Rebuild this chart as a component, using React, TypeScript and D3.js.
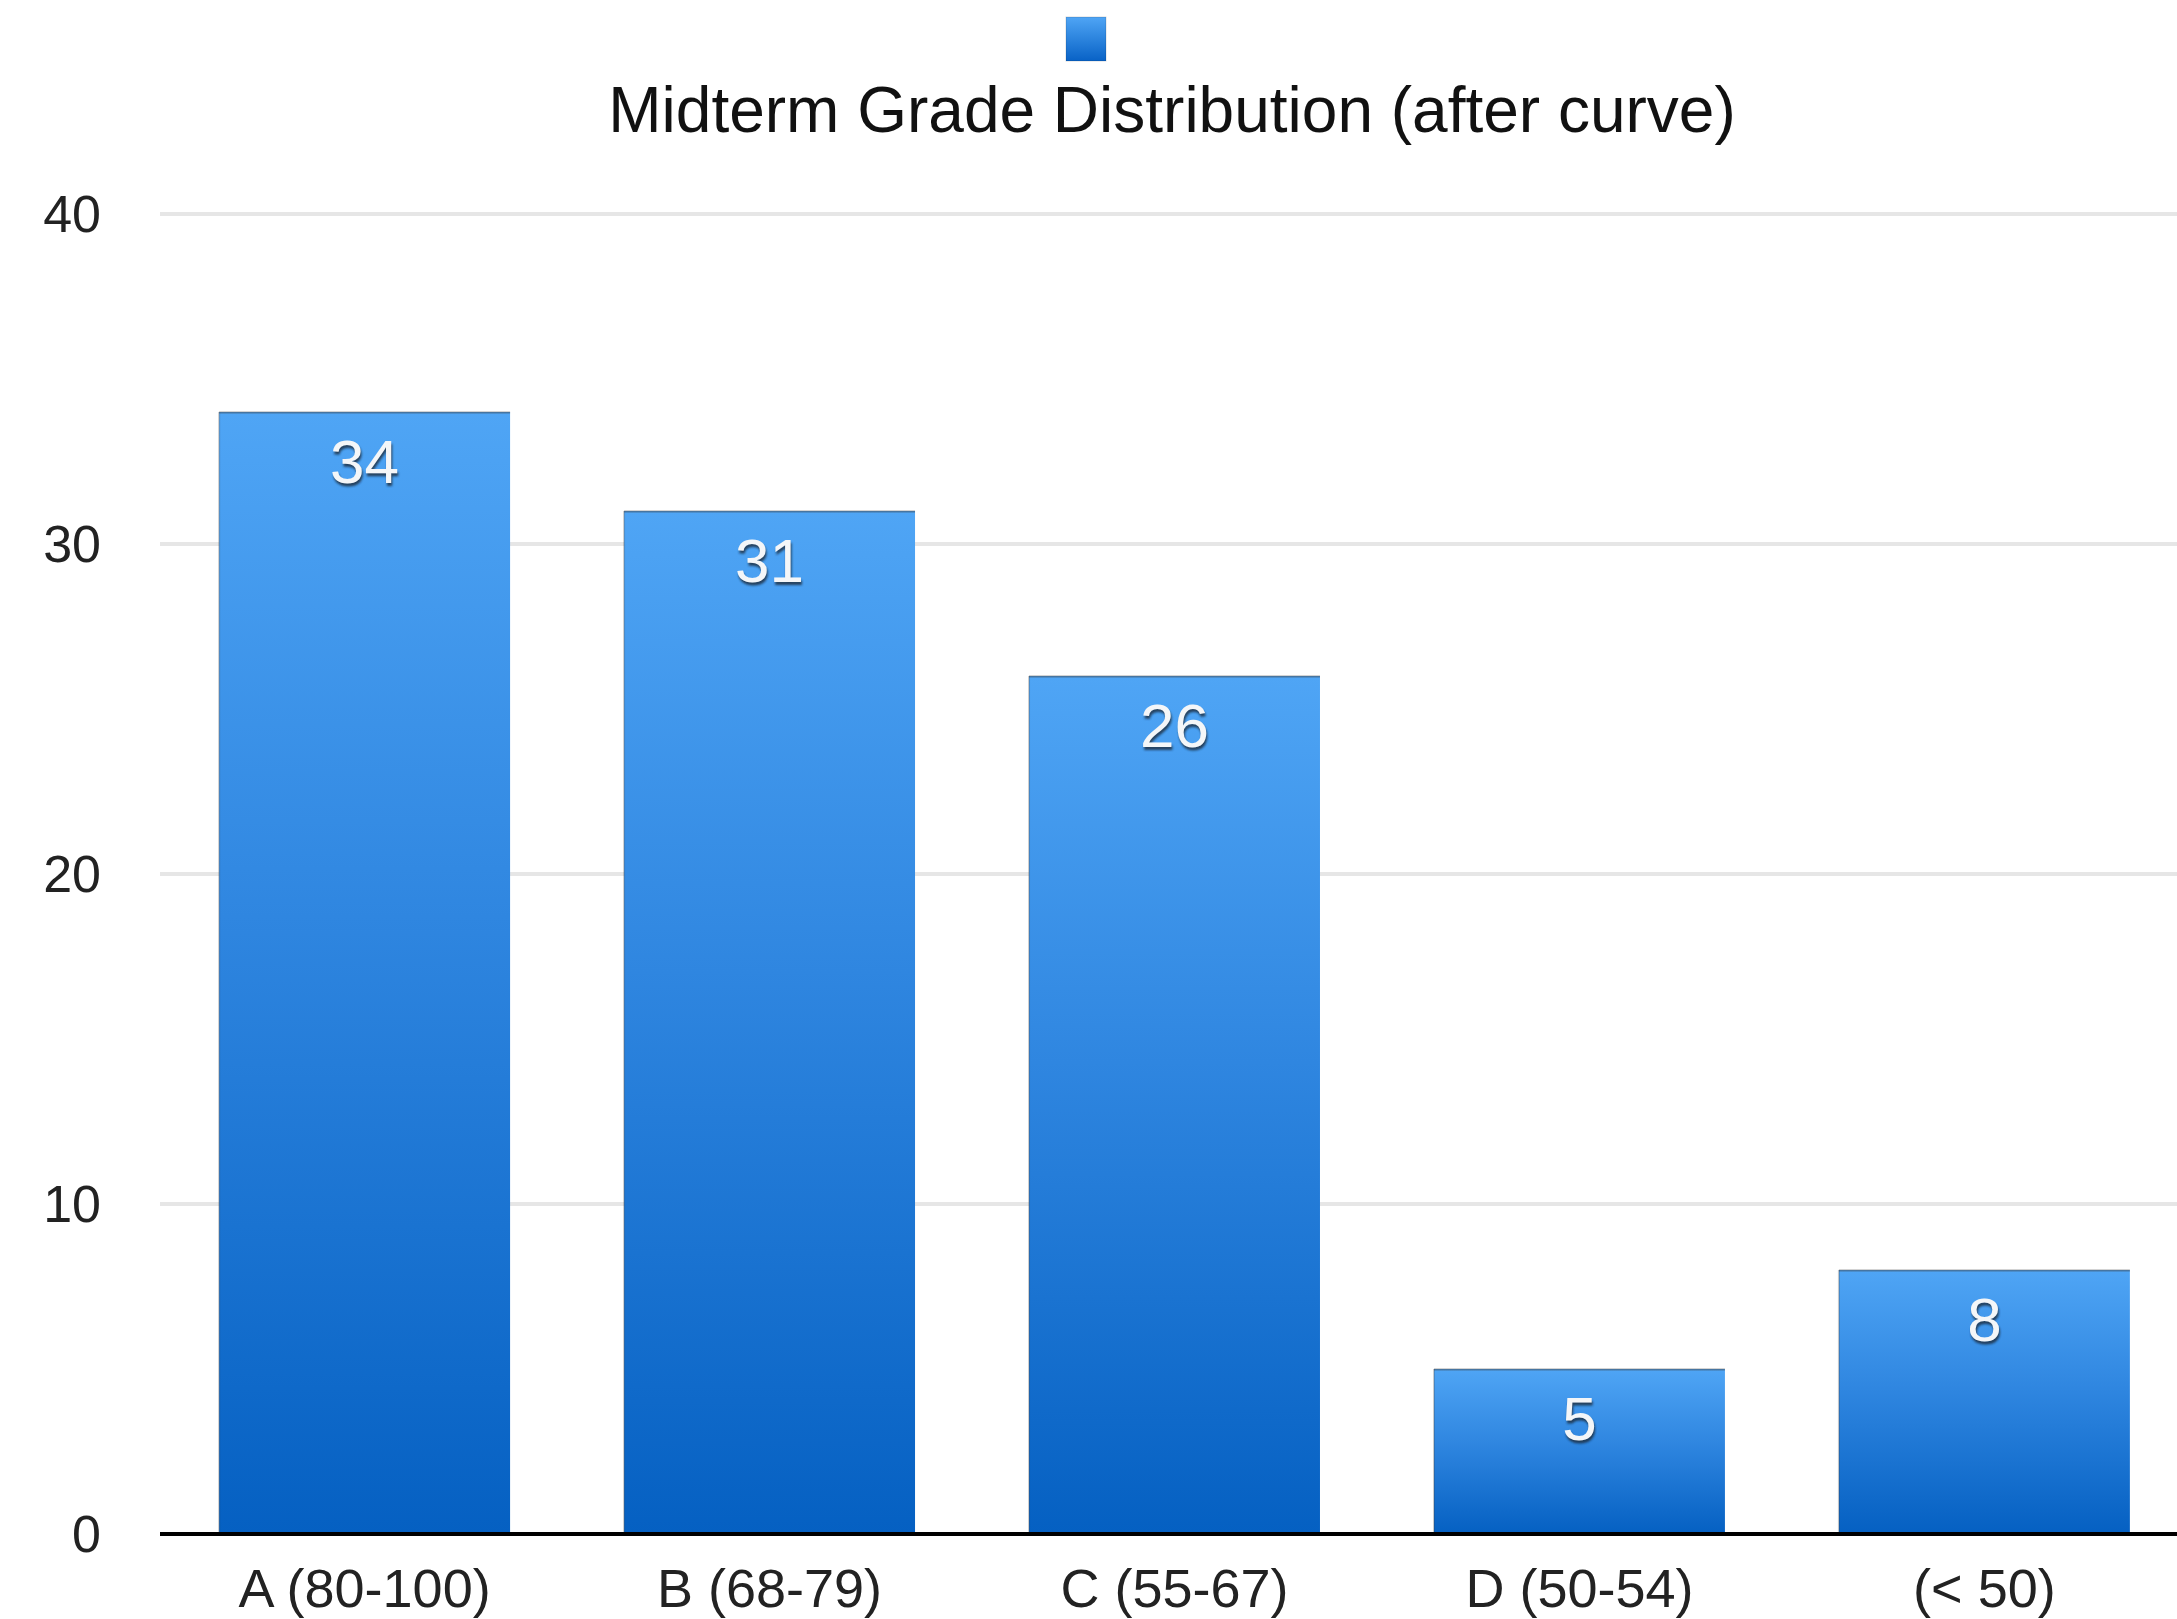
import React from "react";
import * as d3 from "d3";

const categories = ["A (80-100)", "B (68-79)", "C (55-67)", "D (50-54)", "(< 50)"];
const counts = [34, 31, 26, 5, 8];
const yTicks = [0, 10, 20, 30, 40];
const title = "Midterm Grade Distribution (after curve)";

const W = 2177;
const H = 1619;
const FONT = "'Liberation Sans', Arial, Helvetica, sans-serif";

export default function App() {
  const x = d3.scaleBand<string>().domain(categories).range([160, 2189]).paddingInner(0.2815).paddingOuter(0.146);
  const y = d3.scaleLinear().domain([0, 40]).range([1534, 214]);
  const bw = x.bandwidth();

  return (
    <svg width={W} height={H} style={{ position: "absolute", left: 0, top: 0, background: "#fff" }}>
      <defs>
        <linearGradient id="barGrad" x1="0" y1="0" x2="0" y2="1">
          <stop offset="0" stopColor="#4fa5f5" />
          <stop offset="0.45" stopColor="#2f86e0" />
          <stop offset="1" stopColor="#0560c2" />
        </linearGradient>
        <linearGradient id="legGrad" x1="0" y1="0" x2="0" y2="1">
          <stop offset="0" stopColor="#4fa5f5" />
          <stop offset="1" stopColor="#0862c6" />
        </linearGradient>
        <filter id="blurSh" x="-20%" y="-20%" width="140%" height="140%">
          <feGaussianBlur stdDeviation="1.2" />
        </filter>
      </defs>

      {/* legend swatch */}
      <rect x={1066} y={17} width={40} height={44} fill="url(#legGrad)" stroke="rgba(0,0,0,0.15)" strokeWidth={1} />

      {/* title */}
      <text x={1172} y={132} textAnchor="middle" fontFamily={FONT} fontSize={64} fill="#111">
        {title}
      </text>

      {/* gridlines */}
      {yTicks.filter((t) => t > 0).map((t) => (
        <line key={t} x1={160} x2={W} y1={y(t)} y2={y(t)} stroke="#e6e6e6" strokeWidth={4} />
      ))}

      {/* y tick labels */}
      {yTicks.map((t) => (
        <text key={t} x={101} y={y(t)} textAnchor="end" dominantBaseline="central" fontFamily={FONT} fontSize={52} fill="#222">
          {t}
        </text>
      ))}

      {/* bars */}
      {categories.map((c, i) => (
        <g key={c}>
          <rect x={x(c)} y={y(counts[i])} width={bw} height={y(0) - y(counts[i])} fill="url(#barGrad)" />
          <line x1={x(c)} x2={(x(c) as number) + bw} y1={y(counts[i]) + 0.5} y2={y(counts[i]) + 0.5} stroke="rgba(60,60,60,0.45)" strokeWidth={2} />
          <line x1={x(c)} x2={x(c)} y1={y(counts[i])} y2={y(0)} stroke="rgba(60,60,60,0.25)" strokeWidth={2} />
          <text x={(x(c) as number) + bw / 2 + 1} y={y(counts[i]) + 74} textAnchor="middle" fontFamily={FONT} fontSize={62} fill="#1a2a3a" opacity={0.8} filter="url(#blurSh)">
            {counts[i]}
          </text>
          <text x={(x(c) as number) + bw / 2} y={y(counts[i]) + 71} textAnchor="middle" fontFamily={FONT} fontSize={62} fill="#f4f6f8">
            {counts[i]}
          </text>
        </g>
      ))}

      {/* baseline */}
      <line x1={160} x2={W} y1={y(0)} y2={y(0)} stroke="#000" strokeWidth={4} />

      {/* x labels */}
      {categories.map((c) => (
        <text key={c} x={(x(c) as number) + bw / 2} y={1607} textAnchor="middle" fontFamily={FONT} fontSize={54} fill="#222">
          {c}
        </text>
      ))}
    </svg>
  );
}
